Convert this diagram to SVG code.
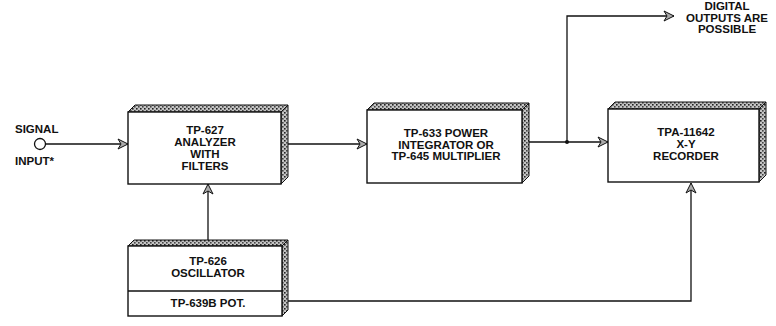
<svg xmlns="http://www.w3.org/2000/svg" width="776" height="326" viewBox="0 0 776 326">
<style>
.t{font-family:"Liberation Sans",Arial,sans-serif;font-size:11.5px;font-weight:bold;text-anchor:middle;fill:#111}
.tl{font-family:"Liberation Sans",Arial,sans-serif;font-size:11.5px;font-weight:bold;fill:#111}
.face{fill:#fff;stroke:#111;stroke-width:1.4}
.shade{fill:url(#stip);stroke:#111;stroke-width:1}
.ln{fill:none;stroke:#111;stroke-width:1.3}
</style>
<defs>
<pattern id="stip" width="4" height="4" patternUnits="userSpaceOnUse">
<rect width="4" height="4" fill="#c4c4c4"/>
<rect x="0" y="0" width="1.6" height="1.6" fill="#222"/>
<rect x="2" y="2" width="1.6" height="1.6" fill="#444"/>
</pattern>
<marker id="arr" viewBox="0 0 12 12" refX="11" refY="6" markerWidth="12" markerHeight="12" orient="auto" markerUnits="userSpaceOnUse">
<path d="M1,1 L11,6 L1,11 L4,6 Z" fill="#aaa" stroke="#111" stroke-width="1"/>
</marker>
</defs>
<rect width="776" height="326" fill="#fff"/>

<g id="connectors">
<line class="ln" x1="46" y1="144" x2="128" y2="144" marker-end="url(#arr)"/>
<line class="ln" x1="288" y1="144" x2="367" y2="144" marker-end="url(#arr)"/>
<line class="ln" x1="529" y1="142" x2="608" y2="142" marker-end="url(#arr)"/>
<polyline class="ln" points="567,142 567,16 674,16" marker-end="url(#arr)"/>
<circle cx="567" cy="142" r="2" fill="#111"/>
<line class="ln" x1="208" y1="240" x2="208" y2="184" marker-end="url(#arr)"/>
<polyline class="ln" points="288,301 691,301 691,183" marker-end="url(#arr)"/>
</g>

<g id="signal-input">
<text class="tl" x="15" y="133">SIGNAL</text>
<circle cx="40" cy="144" r="5.5" fill="#fff" stroke="#111" stroke-width="1.3"/>
<text class="tl" x="15" y="165">INPUT*</text>
</g>

<g id="analyzer">
<polygon class="shade" points="128,112 135,105 288,105 281,112"/>
<polygon class="shade" points="281,112 288,105 288,177 281,184"/>
<rect class="face" x="128" y="112" width="153" height="72"/>
<text class="t" x="205" y="134">TP-627</text>
<text class="t" x="205" y="146">ANALYZER</text>
<text class="t" x="205" y="158">WITH</text>
<text class="t" x="205" y="170">FILTERS</text>
</g>

<g id="integrator">
<polygon class="shade" points="367,110 374,103 529,103 522,110"/>
<polygon class="shade" points="522,110 529,103 529,176 522,183"/>
<rect class="face" x="367" y="110" width="155" height="73"/>
<text class="t" x="446" y="137">TP-633 POWER</text>
<text class="t" x="446" y="148.5">INTEGRATOR OR</text>
<text class="t" x="446" y="160">TP-645 MULTIPLIER</text>
</g>

<g id="recorder">
<polygon class="shade" points="608,109 615,102 766,102 759,109"/>
<polygon class="shade" points="759,109 766,102 766,175 759,182"/>
<rect class="face" x="608" y="109" width="151" height="73"/>
<text class="t" x="686" y="136">TPA-11642</text>
<text class="t" x="686" y="148">X-Y</text>
<text class="t" x="686" y="159.5">RECORDER</text>
</g>

<g id="oscillator">
<polygon class="shade" points="128,246 134,240 288,240 282,246"/>
<polygon class="shade" points="282,246 288,240 288,310 282,316"/>
<rect class="face" x="128" y="246" width="154" height="70"/>
<line class="ln" x1="128" y1="291" x2="282" y2="291"/>
<text class="t" x="208" y="265">TP-626</text>
<text class="t" x="208" y="277">OSCILLATOR</text>
<text class="t" x="208" y="307">TP-639B  POT.</text>
</g>

<g id="digital-note">
<text class="t" x="727" y="10">DIGITAL</text>
<text class="t" x="727" y="21.5">OUTPUTS ARE</text>
<text class="t" x="727" y="32.5">POSSIBLE</text>
</g>
</svg>
